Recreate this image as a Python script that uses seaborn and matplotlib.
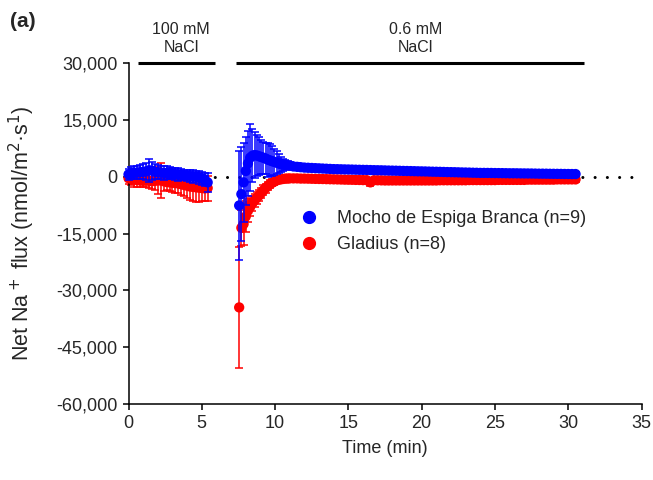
import numpy as np
import pandas as pd
import matplotlib
matplotlib.use("Agg")
import matplotlib.pyplot as plt
from matplotlib.lines import Line2D
from matplotlib.ticker import FuncFormatter
import seaborn as sns

# Tempos de medição (min)
time_salt = [0.0, 0.2, 0.4, 0.6, 0.8, 1.0, 1.2, 1.4, 1.6, 1.8, 2.0, 2.2, 2.4, 2.6,
             2.8, 3.0, 3.2, 3.4, 3.6, 3.8, 4.0, 4.2, 4.4, 4.6, 4.8, 5.0, 5.2, 5.4]
time_recovery = [7.55, 7.7, 7.85, 8.0, 8.15, 8.3, 8.45, 8.6, 8.75, 8.9, 9.05, 9.2,
                 9.35, 9.5, 9.65, 9.8, 9.95, 10.1, 10.25, 10.4, 10.55, 10.7, 10.85,
                 11.0, 11.25, 11.5, 11.75, 12.0]
time_tail = [12.25, 12.5, 12.75, 13.0, 13.25, 13.5, 13.75, 14.0, 14.25, 14.5, 14.75,
             15.0, 15.25, 15.5, 15.75, 16.0, 16.25, 16.5, 16.75, 17.0, 17.25, 17.5,
             17.75, 18.0, 18.25, 18.5, 18.75, 19.0, 19.25, 19.5, 19.75, 20.0, 20.25,
             20.5, 20.75, 21.0, 21.25, 21.5, 21.75, 22.0, 22.25, 22.5, 22.75, 23.0,
             23.25, 23.5, 23.75, 24.0, 24.25, 24.5, 24.75, 25.0, 25.25, 25.5, 25.75,
             26.0, 26.25, 26.5, 26.75, 27.0, 27.25, 27.5, 27.75, 28.0, 28.25, 28.5,
             28.75, 29.0, 29.25, 29.5, 29.75, 30.0, 30.25, 30.5]

# Mocho de Espiga Branca (azul)
blue_salt = [600, 900, 1000, 1100, 1200, 1300, 1400, 1700, 1600, 1300, 1200, 1100,
             1000, 1000, 900, 800, 700, 600, 500, 400, 300, 200, 100, 0, -200, -400,
             -700, -1500]
blue_salt_err = [1500, 1600, 1700, 1600, 1800, 2000, 2300, 3000, 2400, 2000, 1800,
                 1700, 1800, 1700, 1600, 1500, 1600, 1700, 1500, 1400, 1500, 1600,
                 1700, 1500, 1600, 1700, 1800, 2500]
blue_recovery = [-7600, -4600, -1500, 1500, 3500, 5000, 5500, 5700, 5600, 5400, 5200,
                 5000, 4800, 4500, 4300, 4100, 3900, 3700, 3500, 3300, 3200, 3100,
                 3000, 2900, 2700, 2600, 2500, 2400]
blue_recovery_err = [14500, 12500, 10500, 9000, 8500, 8900, 7000, 6000, 5500, 5000,
                     4500, 4200, 4000, 4500, 4200, 4000, 3500, 3000, 2500, 2000, 1600,
                     1300, 1100, 1000, 900, 900, 800, 800]
blue_tail = [2350, 2300, 2250, 2200, 2150, 2100, 2050, 2000, 1980, 1950, 1920, 1900,
             1880, 1850, 1820, 1800, 1780, 1750, 1720, 1700, 1680, 1650, 1620, 1600,
             1580, 1550, 1520, 1500, 1480, 1450, 1420, 1400, 1380, 1350, 1320, 1300,
             1280, 1250, 1220, 1200, 1180, 1150, 1120, 1100, 1080, 1050, 1030, 1000,
             1000, 990, 980, 960, 950, 940, 920, 900, 900, 890, 870, 860, 850, 840,
             820, 800, 800, 790, 770, 760, 750, 740, 720, 710, 700, 700]
blue_tail_err = [700, 700, 700, 700, 700, 700, 700, 700, 700, 700, 700, 700, 700, 700,
                 700, 700, 700, 700, 700, 700, 700, 700, 700, 700, 700, 700, 700, 700,
                 600, 600, 600, 600, 600, 600, 600, 600, 600, 600, 600, 600, 600, 600,
                 600, 600, 600, 600, 600, 600, 600, 600, 600, 600,
                 500, 500, 500, 500, 500, 500, 500, 500, 500, 500, 500, 500, 500, 500,
                 500, 500, 500, 500, 500, 500, 500, 500]

# Gladius (vermelho)
red_salt = [-400, -600, -800, -900, -1000, -1100, -1000, -1100, -1200, -1100, -1000,
            -1000, -1200, -1400, -1500, -1600, -1700, -1800, -2000, -2200, -2400,
            -2600, -2700, -2800, -2900, -3000, -3100, -3000]
red_salt_err = [1600, 1700, 1800, 1700, 1600, 1700, 1800, 2000, 2100, 2500, 3500,
                4700, 2500, 2200, 2300, 2400, 2500, 2600, 2800, 3000, 3300, 3600,
                3800, 3800, 3900, 3500, 3400, 3300]
red_recovery = [-34500, -13500, -12500, -10500, -9000, -8000, -7000, -6300, -5600,
                -5000, -4300, -3600, -3000, -2500, -2000, -1600, -1300, -1000, -800,
                -700, -600, -500, -500, -450, -450, -450, -500, -500]
red_recovery_err = [16000, 4800, 5500, 4000, 3000, 2500, 2000, 1800, 1600, 1500, 1400,
                    1300, 1200, 1100, 1000, 900, 800, 700, 700, 700, 700, 700, 700,
                    700, 700, 700, 700, 700]
red_tail = [-520, -550, -580, -600, -620, -650, -680, -700, -720, -750, -780, -800,
            -820, -850, -870, -900, -920, -1500, -940, -950, -970, -1000,
            -1000, -1000, -1000, -1000, -1000, -1000, -1000, -1000, -1000, -1000,
            -1000, -1000, -1000, -1000,
            -950, -950, -950, -950, -950, -950, -950, -950,
            -900, -900, -900, -900, -900, -900, -900, -900,
            -850, -850, -850, -850, -850, -850, -850, -850,
            -780, -780, -780, -780, -780, -780, -780, -780,
            -720, -720, -720, -720, -720, -720]
red_tail_err = [700, 700, 700, 700, 700, 700, 700, 700, 700, 700, 700, 700, 700, 700,
                700, 700, 700, 900, 700, 700, 700, 700, 700, 700, 700, 700, 700, 700,
                700, 700, 700, 700, 700, 700, 700, 700, 700, 700, 700, 700, 700, 700,
                700, 700, 700, 700, 700, 700, 700, 700, 700, 700, 700, 700, 700, 700,
                700, 700, 700, 700, 700, 700, 700, 700, 700, 700, 700, 700, 700, 700,
                700, 700, 700, 700]

# Períodos de tratamento
treat_start = [0.65, 7.35]
treat_end = [5.9, 31.1]
treat_label_x = [3.6, 19.6]
treat_labels = ["100 mM\nNaCl", "0.6 mM\nNaCl"]

cultivars = ["Gladius (n=8)", "Mocho de Espiga Branca (n=9)"]
colors = {"Gladius (n=8)": "#FF0000", "Mocho de Espiga Branca (n=9)": "#0000FF"}

time_all = time_salt + time_recovery + time_tail
df = pd.concat([
    pd.DataFrame({"time": time_all, "flux": red_salt + red_recovery + red_tail,
                  "err": red_salt_err + red_recovery_err + red_tail_err,
                  "cultivar": cultivars[0]}),
    pd.DataFrame({"time": time_all, "flux": blue_salt + blue_recovery + blue_tail,
                  "err": blue_salt_err + blue_recovery_err + blue_tail_err,
                  "cultivar": cultivars[1]}),
])

sns.set_style("ticks")
plt.rcParams["font.family"] = ["Liberation Sans", "DejaVu Sans"]

fig = plt.figure(figsize=(6.53, 4.8), dpi=100)
ax = fig.add_axes([0.1968, 0.1583, 0.7856, 0.7104])

ax.axhline(0, color="black", lw=2.2, linestyle=(0, (0.01, 4)),
           dash_capstyle="round", zorder=1)

for i, name in enumerate(cultivars):
    sub = df[df["cultivar"] == name]
    ax.errorbar(sub["time"], sub["flux"], yerr=sub["err"], fmt="none",
                ecolor=colors[name], elinewidth=1.1, capsize=3, capthick=1.1,
                zorder=2 + 2 * i, clip_on=False)
    sns.scatterplot(data=sub, x="time", y="flux", color=colors[name], s=55,
                    edgecolor="none", linewidth=0, ax=ax, zorder=3 + 2 * i,
                    clip_on=False, legend=False)

for s, e, lx, lab in zip(treat_start, treat_end, treat_label_x, treat_labels):
    ax.plot([s, e], [30000, 30000], color="black", lw=2.2, clip_on=False,
            solid_capstyle="butt")
    ax.text(lx, 32000, lab, ha="center", va="bottom", fontsize=11.5,
            linespacing=1.25)

ax.set_xlim(0, 35)
ax.set_ylim(-60000, 30000)
ax.set_xticks(range(0, 36, 5))
ax.set_yticks(range(-60000, 30001, 15000))
ax.yaxis.set_major_formatter(FuncFormatter(lambda v, p: f"{int(v):,}"))
ax.set_xlabel("Time (min)", fontsize=13, labelpad=6)
ax.set_ylabel("Net Na$^+$ flux (nmol/m$^2$·s$^1$)", fontsize=15.5)
ax.yaxis.set_label_coords(-0.178, 0.5)
ax.tick_params(labelsize=13, width=1.1, length=4.5, color="black")
sns.despine(ax=ax)
for sp in ["left", "bottom"]:
    ax.spines[sp].set_linewidth(1.1)
    ax.spines[sp].set_color("black")

handles = [Line2D([], [], marker="o", ls="none", color=colors[c], markersize=8.5)
           for c in reversed(cultivars)]
ax.legend(handles, list(reversed(cultivars)), loc="center left",
          bbox_to_anchor=(0.316, 0.505), frameon=False, fontsize=13,
          handletextpad=0.57, labelspacing=0.5, borderpad=0, borderaxespad=0)

fig.text(0.015, 0.955, "(a)", fontsize=15, fontweight="bold", va="center")

fig.savefig("out.png", dpi=100)
